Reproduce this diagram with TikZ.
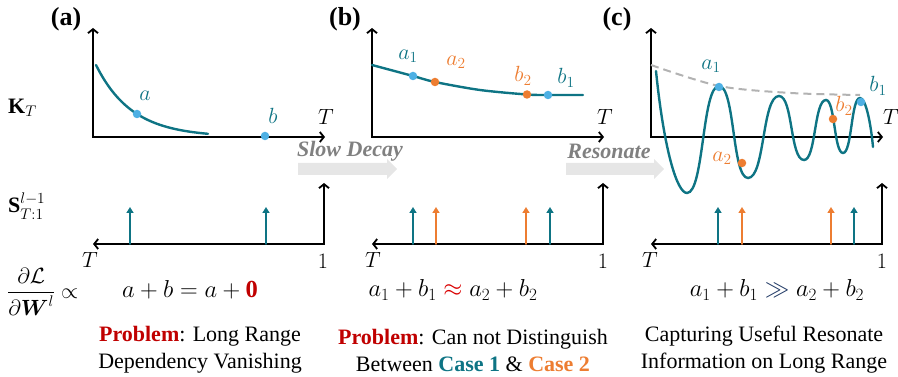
\RequirePackage{fix-cm}
\documentclass[tikz,border=0pt]{standalone}
\usepackage{amsmath,amssymb}
\usepackage{fontspec}
\setmainfont{Liberation Serif}
\usetikzlibrary{arrows.meta}

\definecolor{tealc}{RGB}{14,116,132}
\definecolor{dotblue}{RGB}{77,176,228}
\definecolor{dotorange}{RGB}{237,125,49}
\definecolor{probred}{RGB}{192,0,0}
\definecolor{navyc}{RGB}{31,56,100}
\definecolor{arrowgray}{RGB}{230,230,230}

\begin{document}
\begin{tikzpicture}[x=1pt, y=-1pt, line cap=round,
  axis/.style={line width=1.8pt, line join=miter, {Straight Barb[length=4pt,width=10pt]}-{Straight Barb[length=4pt,width=10pt]}},
  curve/.style={tealc, line width=2.4pt},
  envelope/.style={gray!60, line width=2pt, line cap=butt, dash pattern=on 8pt off 5pt},
  spike/.style={line width=1.6pt, -{Triangle[length=6pt,width=7pt]}},
  dot/.style={circle, inner sep=0pt, minimum size=8.5pt},
  lab/.style={font=\fontsize{22}{26}\selectfont, inner sep=0pt},
  panel/.style={font=\fontsize{26}{30}\selectfont\bfseries, inner sep=0pt},
  eqn/.style={font=\fontsize{24.5}{28}\selectfont, inner sep=0pt},
  capt/.style={font=\fontsize{22}{27}\selectfont, align=center, inner sep=0pt},
  move/.style={font=\fontsize{22}{26}\selectfont\bfseries\itshape, text=gray, inner sep=0pt}]
\useasboundingbox (0,0) rectangle (898,377);

% row labels
\node[lab, anchor=west] (kt) at (8,108) {$\mathbf{K}_T$};
\node[lab, anchor=west] (st) at (8,206) {$\mathbf{S}^{l-1}_{T:1}$};
\node[lab, anchor=west] (grad) at (7,292) {$\dfrac{\partial\mathcal{L}}{\partial\boldsymbol{W}^{l}}\propto$};

% (a)
\begin{scope}[xshift=93pt]
\node[panel] (pa) at (-27,19) {(a)};
\coordinate (ya) at (0,28);
\coordinate (oa) at (0,137);
\coordinate (xa) at (232,137);
\draw[axis] (ya) -- (oa) -- (xa);
\node[lab] (Ta) at (233,117) {$T$};
\draw[curve] plot[domain=3:115, samples=50] (\x,{137-72*exp(-0.0278*(\x-3))});
\node[dot, fill=dotblue] (da) at (44,114) {};
\node[dot, fill=dotblue] (db) at (172,136) {};
\node[lab, text=tealc] (la) at (52,96) {$a$};
\node[lab, text=tealc] (lb) at (180,116) {$b$};

\coordinate (ba) at (0,244);
\coordinate (ca) at (231,244);
\coordinate (ua) at (231,183);
\draw[axis] (ba) -- (ca) -- (ua);
\node[lab] (Tba) at (-3,260) {$T$};
\node[lab] (1a) at (230,261) {$1$};
\foreach \p/\c [count=\i] in {37/tealc,173/tealc}{
  \coordinate (sa\i) at (\p,244);
  \draw[spike, \c] (sa\i) -- ++(0,-37);
}
\end{scope}

% (b)
\begin{scope}[xshift=372pt]
\node[panel] (pb) at (-27,19) {(b)};
\coordinate (yb) at (0,28);
\coordinate (ob) at (0,137);
\coordinate (xb) at (232,137);
\draw[axis] (yb) -- (ob) -- (xb);
\node[lab] (Tb) at (233,117) {$T$};
\draw[curve] plot[smooth] coordinates {(0,65) (41,76) (63,82) (108,90) (155,94.5) (176,95) (211,95)};
\node[dot, fill=dotblue] (da1b) at (41,76) {};
\node[dot, fill=dotorange] (da2b) at (63,82) {};
\node[dot, fill=dotorange] (db2b) at (155,94.5) {};
\node[dot, fill=dotblue] (db1b) at (176,95) {};
\node[lab, text=tealc] (la1b) at (36,56) {$a_1$};
\node[lab, text=dotorange] (la2b) at (84,62) {$a_2$};
\node[lab, text=dotorange] (lb2b) at (151,76) {$b_2$};
\node[lab, text=tealc] (lb1b) at (194,78) {$b_1$};

\coordinate (bb) at (0,244);
\coordinate (cb) at (231,244);
\coordinate (ub) at (231,183);
\draw[axis] (bb) -- (cb) -- (ub);
\node[lab] (Tbb) at (1,260) {$T$};
\node[lab] (1b) at (231,261) {$1$};
\foreach \p/\c [count=\i] in {41/tealc,64/dotorange,154/dotorange,178/tealc}{
  \coordinate (sb\i) at (\p,244);
  \draw[spike, \c] (sb\i) -- ++(0,-37);
}
\end{scope}

% (c)
\begin{scope}[xshift=651pt]
\node[panel] (pc) at (-34,19) {(c)};
\coordinate (yc) at (0,28);
\coordinate (oc) at (0,137);
\coordinate (xc) at (232,137);
\draw[axis] (yc) -- (oc) -- (xc);
\node[lab] (Tc) at (240,117) {$T$};
\draw[envelope] plot[smooth] coordinates {(0,65) (68,86) (140,93) (209,95)};
\draw[curve] (5,71) .. controls (13,150) and (26,193) .. (36,193)
  .. controls +(17,0) and +(-17,0) .. (68,86)
  .. controls +(16,0) and +(-16,0) .. (97,178)
  .. controls +(17,0) and +(-17,0) .. (128,96)
  .. controls +(14,0) and +(-14,0) .. (153,160)
  .. controls +(12,0) and +(-12,0) .. (175,100)
  .. controls +(9,0) and +(-9,0) .. (192,153)
  .. controls +(9,0) and +(-9,0) .. (209,98)
  .. controls +(6,0) and (220,125) .. (222,147);
\node[dot, fill=dotblue] (da1c) at (68,87) {};
\node[dot, fill=dotorange] (da2c) at (91,163) {};
\node[dot, fill=dotorange] (db2c) at (182,119) {};
\node[dot, fill=dotblue] (db1c) at (210,102) {};
\node[lab, text=tealc] (la1c) at (60,66) {$a_1$};
\node[lab, text=dotorange] (la2c) at (71,158) {$a_2$};
\node[lab, text=dotorange] (lb2c) at (193,106) {$b_2$};
\node[lab, text=tealc] (lb1c) at (227,86) {$b_1$};

\coordinate (bc) at (0,244);
\coordinate (cc) at (231,244);
\coordinate (uc) at (231,183);
\draw[axis] (bc) -- (cc) -- (uc);
\node[lab] (Tbc) at (-1,260) {$T$};
\node[lab] (1c) at (231,261) {$1$};
\foreach \p/\c [count=\i] in {67/tealc,91/dotorange,180/dotorange,203/tealc}{
  \coordinate (sc\i) at (\p,244);
  \draw[spike, \c] (sc\i) -- ++(0,-37);
}
\end{scope}

% transitions
\fill[arrowgray] (298,163) -- (387,163) -- (387,159) -- (397,169) -- (387,179) -- (387,175) -- (298,175) -- cycle;
\node[move] (slow) at (350,151) {Slow Decay};
\fill[arrowgray] (566,163) -- (654,163) -- (654,159) -- (664,169) -- (654,179) -- (654,175) -- (566,175) -- cycle;
\node[move] (reso) at (609,151) {Resonate};

% gradients
\node[eqn] (ea) at (190,290) {$a+b=a+\textcolor{probred}{\mathbf{0}}$};
\node[eqn] (eb) at (453,290) {$a_1+b_1\mathrel{\textcolor{red!85!black}{\approx}}a_2+b_2$};
\node[eqn] (ec) at (777,290) {$a_1+b_1\mathrel{\textcolor{navyc}{\gg}}a_2+b_2$};

% captions
\node[capt] (ca1) at (200,350) {\textcolor{probred}{\textbf{Problem}}: Long Range\\Dependency Vanishing};
\node[capt] (cb1) at (473,350) {\textcolor{probred}{\textbf{Problem}}: Can not Distinguish\\Between \textcolor{tealc}{\textbf{Case 1}} \& \textcolor{dotorange}{\textbf{Case 2}}};
\node[capt] (cc1) at (764,350) {Capturing Useful Resonate\\Information on Long Range};
\end{tikzpicture}
\end{document}
